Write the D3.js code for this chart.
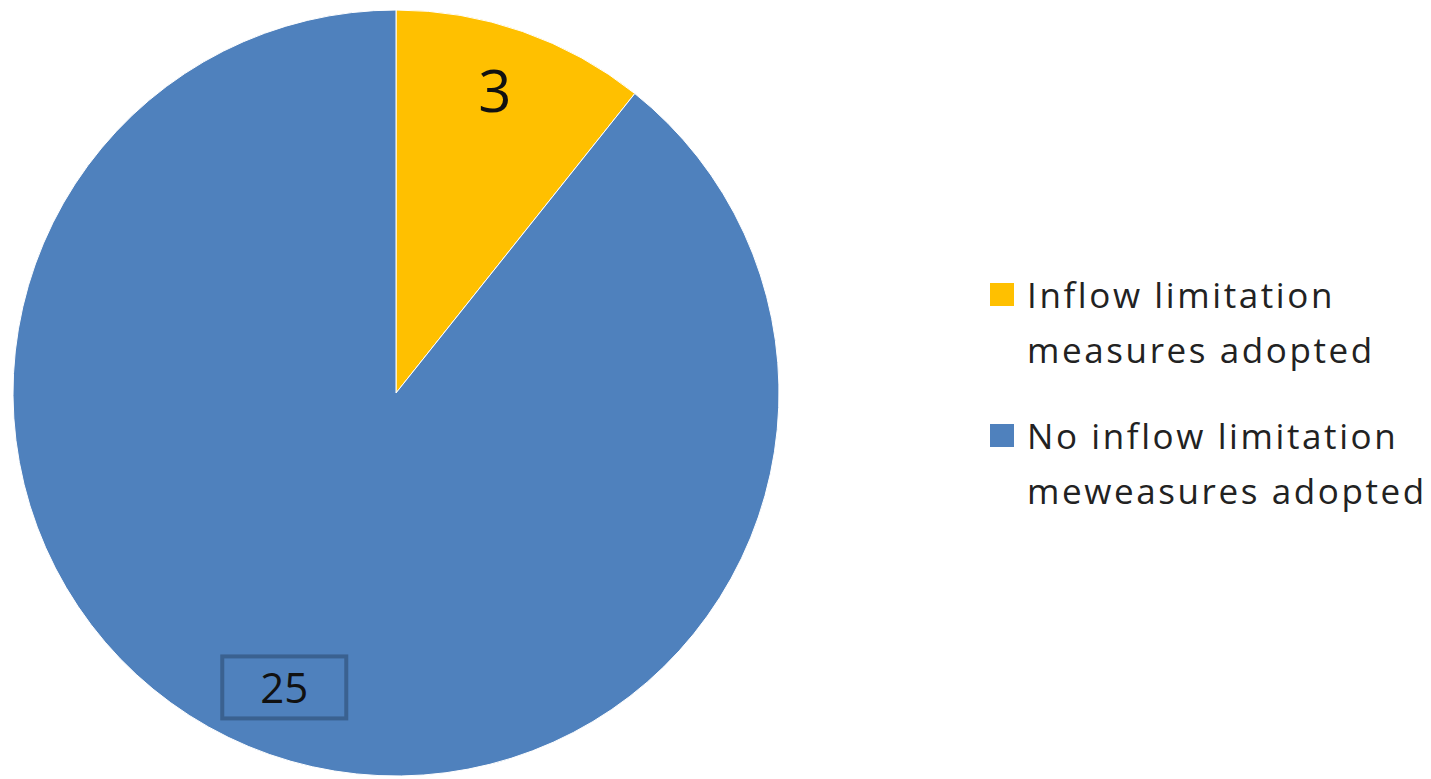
<!DOCTYPE html>
<html>
<head>
<meta charset="utf-8">
<script src="https://cdn.jsdelivr.net/npm/d3@7"></script>
<style>
  html, body { margin: 0; padding: 0; background: #fff; }
  svg { display: block; }
</style>
</head>
<body>
<div id="chart"></div>
<script>
const categories = ["Inflow limitation measures adopted", "No inflow limitation meweasures adopted"];
const legendLines = [
  ["Inflow limitation", "measures adopted"],
  ["No inflow limitation", "meweasures adopted"]
];
const values = [3, 25];
const colors = ["#FFC000", "#4F81BD"];

const width = 1431;
const height = 779;
const cx = 396, cy = 393, radius = 383;

const svg = d3.select("#chart")
  .append("svg")
  .attr("width", width)
  .attr("height", height);

const pie = d3.pie().sort(null).value(d => d);
const arcs = pie(values);

const arc = d3.arc().innerRadius(0).outerRadius(radius);
const labelArc = d3.arc().innerRadius(radius * 0.82).outerRadius(radius * 0.82);

const g = svg.append("g").attr("transform", `translate(${cx},${cy})`);

g.selectAll("path")
  .data(arcs)
  .join("path")
  .attr("d", arc)
  .attr("fill", (d, i) => colors[i])
  .attr("stroke", "#fff")
  .attr("stroke-width", 1);

// data labels (small nudges to sit where the original ones do)
const labelSizes = [58, 42];
const nudge = [[-5, -5], [-8, -2]];
arcs.forEach((d, i) => {
  const [lx, ly] = labelArc.centroid(d);
  const lg = g.append("g")
    .attr("transform", `translate(${lx + nudge[i][0]},${ly + nudge[i][1]})`);
  if (i === 1) {
    lg.append("rect")
      .attr("x", -62).attr("y", -31)
      .attr("width", 124).attr("height", 62)
      .attr("fill", "none")
      .attr("stroke", "#3A6190")
      .attr("stroke-width", 4);
  }
  lg.append("text")
    .attr("text-anchor", "middle")
    .attr("dy", "0.36em")
    .attr("font-family", "'Open Sans', sans-serif")
    .attr("font-size", labelSizes[i])
    .attr("fill", "#111")
    .text(values[i]);
});

// legend
const legend = svg.append("g").attr("transform", "translate(990,0)");
const legendY = [283, 424];
legendLines.forEach((lines, i) => {
  const item = legend.append("g").attr("transform", `translate(0,${legendY[i]})`);
  item.append("rect")
    .attr("width", 24).attr("height", 23)
    .attr("fill", colors[i]);
  const t = item.append("text")
    .attr("x", 37)
    .attr("font-family", "'Open Sans', sans-serif")
    .attr("font-size", 35)
    .attr("letter-spacing", 2.6)
    .attr("fill", "#222");
  lines.forEach((line, j) => {
    t.append("tspan")
      .attr("x", 37)
      .attr("y", 25 + j * 55)
      .text(line);
  });
});
</script>
</body>
</html>
